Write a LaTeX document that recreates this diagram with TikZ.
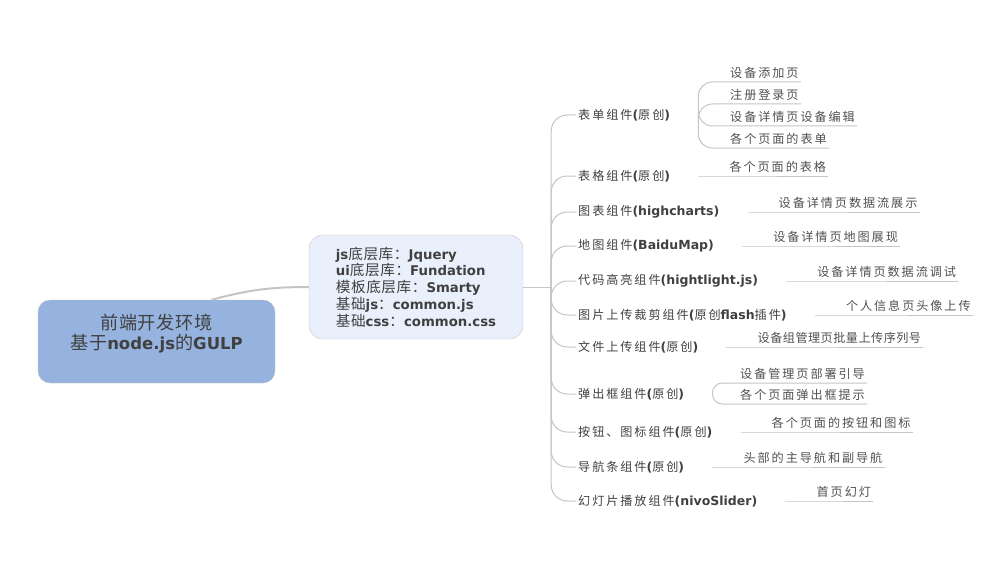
\documentclass[tikz,border=0pt]{standalone}
\usepackage{fontspec}
\setmainfont{DejaVu Sans}
\newfontfamily\cjk[Scale=0.97,LetterSpace=16]{Noto Sans CJK SC}
\newfontfamily\cjktight[Scale=0.97,LetterSpace=4]{Noto Sans CJK SC}
\newfontfamily\cjkbig[Scale=1.1,LetterSpace=4]{Noto Sans CJK SC}
\usetikzlibrary{positioning}
\definecolor{rootblue}{RGB}{149,179,222}
\definecolor{baseblue}{RGB}{233,240,251}
\definecolor{boxgray}{RGB}{196,196,196}
\definecolor{edgegray}{RGB}{196,196,196}
\definecolor{textgray}{RGB}{64,64,64}
\definecolor{leafgray}{RGB}{80,80,80}
\newcommand{\zh}[1]{{\mdseries\zhfont #1}}
\let\zhfont\cjk

\begin{document}
\begin{tikzpicture}[x=1pt, y=-1pt,
  rootbox/.style={draw=boxgray, fill=rootblue, rounded corners=12pt, minimum width=237pt, minimum height=83pt, align=center, text=textgray, font={\fontsize{16.5}{20}\selectfont\bfseries\let\zhfont\cjkbig}},
  basebox/.style={draw=boxgray, fill=baseblue, rounded corners=14pt, minimum width=214pt, minimum height=104pt, align=left, text=textgray, font={\fontsize{13.3}{16.8}\selectfont\bfseries\let\zhfont\cjkbig}},
  branch/.style={anchor=west, inner xsep=2pt, inner ysep=2pt, text=textgray, font={\fontsize{12.5}{15}\selectfont\bfseries}},
  leaf/.style={anchor=south west, inner xsep=2pt, inner ysep=3pt, text=leafgray, font={\fontsize{12.5}{15}\selectfont}},
  conn/.style={draw=edgegray, line width=1pt}]
\useasboundingbox (0,0) rectangle (1006,575);

% Root
\node[rootbox] (root) at (156.5,341.5) {\zh{前端开发环境}\\\zh{基于}node.js\zh{的}GULP\\\mbox{}};

% Base libraries
\node[basebox] (base) at (416,287) {js\zh{底层库：}Jquery\\ui\zh{底层库：}Fundation\\\zh{模板底层库：}Smarty\\\zh{基础}js\zh{：}common.js\\\zh{基础}css\zh{：}common.css};
\draw[conn, line width=2pt] ([xshift=55pt]root.north) to[out=15, in=180] (base.west);
\coordinate (hub) at ([xshift=28pt]base.east);
\draw[conn] (base.east) -- (hub);

% Components
\node[branch] (form) at (576,115) {\zh{表单组件}(\zh{原创})};
\node[branch] (table) at (576,176) {\zh{表格组件}(\zh{原创})};
\node[branch] (chart) at (576,212) {\zh{图表组件}(highcharts)};
\node[branch] (map) at (576,246) {\zh{地图组件}(BaiduMap)};
\node[branch] (code) at (576,281) {\zh{代码高亮组件}(hightlight.js)};
\node[branch] (crop) at (576,315) {\zh{图片上传裁剪组件}(\zh{原创}flash\zh{插件})};
\node[branch] (upload) at (576,347) {\zh{文件上传组件}(\zh{原创})};
\node[branch] (popup) at (576,394) {\zh{弹出框组件}(\zh{原创})};
\node[branch] (button) at (576,432) {\zh{按钮、图标组件}(\zh{原创})};
\node[branch] (navbar) at (576,467) {\zh{导航条组件}(\zh{原创})};
\node[branch] (slider) at (576,501) {\zh{幻灯片播放组件}(nivoSlider)};
\foreach \b in {form,table,chart,map,code,crop,upload,popup,button,navbar,slider}
  \draw[conn, rounded corners=16pt] (hub) |- (\b.west);

% Pages
\node[leaf] (form1) at (728,82) {\zh{设备添加页}};
\node[leaf] (form2) at (728,104) {\zh{注册登录页}};
\node[leaf] (form3) at (728,126) {\zh{设备详情页设备编辑}};
\node[leaf] (form4) at (728,148) {\zh{各个页面的表单}};
\node[leaf] (table1) at ([xshift=55pt]table.east) {\zh{各个页面的表格}};
\node[leaf] (chart1) at ([xshift=55pt]chart.east) {\zh{设备详情页数据流展示}};
\node[leaf] (map1) at ([xshift=55pt]map.east) {\zh{设备详情页地图展现}};
\node[leaf] (code1) at ([xshift=55pt]code.east) {\zh{设备详情页数据流调试}};
\node[leaf] (crop1) at ([xshift=55pt]crop.east) {\zh{个人信息页头像上传}};
\node[leaf] (upload1) at ([xshift=55pt]upload.east) {{\cjktight 设备组管理页批量上传序列号}};
\node[leaf] (popup1) at (738,383) {\zh{设备管理页部署引导}};
\node[leaf] (popup2) at (738,404) {\zh{各个页面弹出框提示}};
\node[leaf] (button1) at ([xshift=55pt]button.east) {\zh{各个页面的按钮和图标}};
\node[leaf] (navbar1) at ([xshift=55pt]navbar.east) {\zh{头部的主导航和副导航}};
\node[leaf] (slider1) at ([xshift=55pt]slider.east) {\zh{首页幻灯}};

\foreach \g in {form1,form2,form3,form4}
  \draw[conn, rounded corners=14pt] ([xshift=26pt]form.east) |- (\g.south west) -- (\g.south east);
\foreach \g in {popup1,popup2}
  \draw[conn, rounded corners=10pt] ([xshift=26pt]popup.east) |- (\g.south west) -- (\g.south east);
\foreach \p in {table,chart,map,code,crop,upload,button,navbar,slider}
  \draw[conn] ([xshift=26pt]\p.east) -- (\p1.south west) -- (\p1.south east);
\end{tikzpicture}
\end{document}
